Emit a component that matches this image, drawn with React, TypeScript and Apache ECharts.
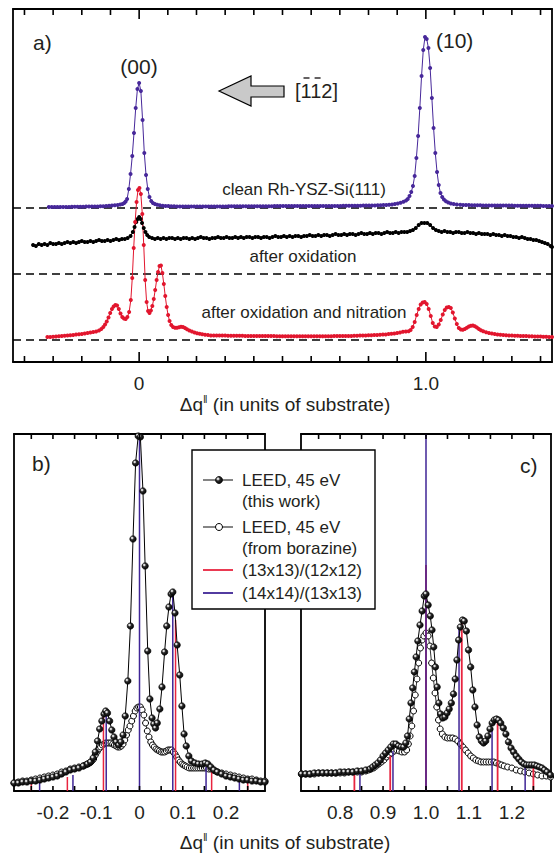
import React, { useEffect, useRef } from 'react';
import * as echarts from 'echarts';

const FONT = '"Liberation Sans", Arial, Helvetica, sans-serif';
const TXT = '#231f20';
const PURPLE = '#47289a';
const RED = '#e2162e';
const STICK_RED = '#e8243f';
const STICK_PURPLE = '#3f2596';

// ---------- panel a : x range and tick values ----------
const xRangeA = [-0.44, 1.44];
const yMaxA = 353;
const majorTicksA = [0, 1];
const minorTicksA = [-0.4, -0.3, -0.2, -0.1, 0.1, 0.2, 0.3, 0.4, 0.5, 0.6, 0.7, 0.8, 0.9, 1.1, 1.2, 1.3, 1.4];
// dashed baselines of the three traces (clean, oxidation, nitration)
const baselineOffsets = [154, 88, 22];

// intensity above its dashed baseline: [q, I]
const cleanTrace = [
  [-0.315, 1], [-0.305, 1], [-0.295, 1], [-0.285, 1], [-0.275, 1], [-0.265, 1], [-0.255, 1], [-0.245, 1], [-0.235, 1.2], [-0.225, 1.2],
  [-0.215, 1.2], [-0.205, 1.3], [-0.195, 1.3], [-0.185, 1.4], [-0.175, 1.4], [-0.165, 1.5], [-0.155, 1.5], [-0.145, 1.6], [-0.135, 1.7], [-0.125, 1.8],
  [-0.115, 2], [-0.105, 2.2], [-0.095, 2.4], [-0.085, 2.7], [-0.075, 3], [-0.066, 3.5], [-0.058, 4], [-0.052, 5], [-0.047, 6.5], [-0.042, 9],
  [-0.036, 19], [-0.03, 34], [-0.024, 52], [-0.018, 75], [-0.012, 100], [-0.006, 119], [0, 125], [0.006, 117], [0.012, 88], [0.018, 55],
  [0.024, 33], [0.03, 19], [0.036, 11], [0.042, 7], [0.048, 5], [0.055, 4], [0.063, 3.2], [0.072, 2.7], [0.082, 2.3], [0.092, 2],
  [0.102, 1.9], [0.112, 1.8], [0.122, 1.7], [0.132, 1.6], [0.142, 1.5], [0.152, 1.5], [0.162, 1.5], [0.172, 1.5], [0.182, 1.5], [0.192, 1.5],
  [0.202, 1.5], [0.212, 1.5], [0.222, 1.5], [0.232, 1.6], [0.242, 1.6], [0.252, 1.6], [0.262, 1.6], [0.272, 1.6], [0.282, 1.6], [0.292, 1.6],
  [0.302, 1.6], [0.312, 1.7], [0.322, 1.7], [0.332, 1.7], [0.342, 1.7], [0.352, 1.7], [0.362, 1.7], [0.372, 1.7], [0.382, 1.7], [0.392, 1.8],
  [0.402, 1.8], [0.412, 1.8], [0.422, 1.8], [0.432, 1.8], [0.442, 1.8], [0.452, 1.8], [0.462, 1.8], [0.472, 1.9], [0.482, 1.9], [0.492, 1.9],
  [0.502, 1.9], [0.512, 1.9], [0.522, 1.9], [0.532, 1.9], [0.542, 1.9], [0.552, 2], [0.562, 2], [0.572, 2], [0.582, 2], [0.592, 2],
  [0.602, 2], [0.612, 2], [0.622, 2], [0.632, 2], [0.642, 2], [0.652, 2.1], [0.662, 2.1], [0.672, 2.1], [0.682, 2.1], [0.692, 2.1],
  [0.702, 2.1], [0.712, 2.2], [0.722, 2.2], [0.732, 2.2], [0.742, 2.2], [0.752, 2.3], [0.762, 2.3], [0.772, 2.3], [0.782, 2.4], [0.792, 2.4],
  [0.802, 2.5], [0.812, 2.5], [0.822, 2.6], [0.832, 2.7], [0.842, 2.8], [0.852, 2.9], [0.862, 3.1], [0.872, 3.3], [0.882, 3.6], [0.892, 4],
  [0.902, 4.5], [0.912, 5.2], [0.922, 6.2], [0.931, 7.5], [0.937, 9], [0.943, 12], [0.949, 16], [0.955, 22], [0.961, 32], [0.967, 50],
  [0.973, 72], [0.979, 100], [0.985, 132], [0.991, 158], [0.997, 171], [1.003, 169], [1.009, 160], [1.015, 140], [1.021, 110], [1.027, 80],
  [1.033, 55], [1.039, 36], [1.045, 23], [1.051, 15], [1.057, 11], [1.063, 8.5], [1.07, 6.8], [1.078, 5.5], [1.087, 4.6], [1.097, 4],
  [1.108, 3.6], [1.12, 3.3], [1.13, 3.1], [1.14, 3], [1.15, 2.9], [1.16, 2.8], [1.17, 2.8], [1.18, 2.7], [1.19, 2.7], [1.2, 2.6],
  [1.21, 2.6], [1.22, 2.6], [1.23, 2.5], [1.24, 2.5], [1.25, 2.5], [1.26, 2.5], [1.27, 2.4], [1.28, 2.4], [1.29, 2.4], [1.3, 2.4],
  [1.31, 2.3], [1.32, 2.3], [1.33, 2.3], [1.34, 2.3], [1.35, 2.3], [1.36, 2.2], [1.37, 2.2], [1.38, 2.2], [1.39, 2.2], [1.4, 2.2],
  [1.41, 2.1], [1.42, 2.1], [1.43, 2.1], [1.44, 2.1],
];

const oxidationTrace = [
  [-0.37, 29], [-0.36, 28], [-0.35, 30], [-0.34, 29], [-0.33, 30], [-0.32, 29], [-0.31, 31], [-0.3, 30], [-0.29, 30], [-0.28, 31],
  [-0.27, 30], [-0.26, 31], [-0.25, 32], [-0.24, 31], [-0.23, 32], [-0.22, 31], [-0.21, 32], [-0.2, 33], [-0.19, 32], [-0.18, 32],
  [-0.17, 33], [-0.16, 32], [-0.15, 33], [-0.14, 34], [-0.13, 33], [-0.12, 33], [-0.11, 34], [-0.1, 33], [-0.09, 34], [-0.08, 35],
  [-0.07, 34], [-0.06, 35], [-0.05, 35], [-0.04, 36], [-0.03, 38], [-0.022, 42], [-0.016, 47], [-0.01, 52], [-0.005, 55], [0, 57],
  [0.005, 55], [0.01, 51], [0.016, 46], [0.022, 42], [0.028, 39], [0.035, 37], [0.045, 36], [0.055, 35], [0.065, 36], [0.075, 35],
  [0.085, 36], [0.095, 35], [0.105, 36], [0.115, 36], [0.125, 35], [0.135, 36], [0.145, 35], [0.155, 36], [0.165, 36], [0.175, 35],
  [0.185, 36], [0.195, 35], [0.205, 36], [0.215, 37], [0.225, 36], [0.235, 36], [0.245, 35], [0.255, 36], [0.265, 36], [0.275, 37],
  [0.285, 36], [0.295, 36], [0.305, 37], [0.315, 36], [0.325, 36], [0.335, 37], [0.345, 36], [0.355, 37], [0.365, 36], [0.375, 37],
  [0.385, 37], [0.395, 36], [0.405, 37], [0.415, 37], [0.425, 36], [0.435, 37], [0.445, 37], [0.455, 36], [0.465, 37], [0.475, 38],
  [0.485, 37], [0.495, 37], [0.505, 38], [0.515, 37], [0.525, 38], [0.535, 37], [0.545, 38], [0.555, 38], [0.565, 37], [0.575, 38],
  [0.585, 38], [0.595, 39], [0.605, 38], [0.615, 38], [0.625, 39], [0.635, 38], [0.645, 39], [0.655, 39], [0.665, 38], [0.675, 39],
  [0.685, 40], [0.695, 39], [0.705, 39], [0.715, 40], [0.725, 39], [0.735, 40], [0.745, 40], [0.755, 39], [0.765, 40], [0.775, 41],
  [0.785, 40], [0.795, 40], [0.805, 41], [0.815, 40], [0.825, 41], [0.835, 41], [0.845, 40], [0.855, 41], [0.865, 42], [0.875, 41],
  [0.885, 41], [0.895, 42], [0.905, 41], [0.915, 42], [0.925, 42], [0.935, 42], [0.945, 43], [0.955, 44], [0.965, 46], [0.975, 49],
  [0.985, 51], [0.995, 51], [1.005, 51], [1.015, 49], [1.025, 46], [1.035, 44], [1.045, 43], [1.055, 42], [1.065, 43], [1.075, 42],
  [1.085, 42], [1.095, 41], [1.105, 42], [1.115, 42], [1.125, 41], [1.135, 41], [1.145, 42], [1.155, 41], [1.165, 41], [1.175, 40],
  [1.185, 41], [1.195, 40], [1.205, 40], [1.215, 40], [1.225, 39], [1.235, 40], [1.245, 39], [1.255, 39], [1.265, 38], [1.275, 39],
  [1.285, 38], [1.295, 38], [1.305, 37], [1.315, 37], [1.325, 36], [1.335, 37], [1.345, 36], [1.355, 35], [1.365, 35], [1.375, 34],
  [1.385, 34], [1.395, 33], [1.405, 32], [1.415, 31], [1.425, 30], [1.435, 28], [1.44, 27],
];

const nitrationTrace = [
  [-0.32, 3], [-0.31, 3], [-0.3, 3.3], [-0.29, 3.5], [-0.28, 3.8], [-0.27, 4], [-0.26, 4.3], [-0.25, 4.5], [-0.24, 4.8], [-0.23, 5],
  [-0.22, 5.4], [-0.21, 5.8], [-0.2, 6.1], [-0.19, 6.5], [-0.18, 7], [-0.17, 7.5], [-0.16, 8], [-0.15, 8.6], [-0.14, 9.5], [-0.132, 11],
  [-0.125, 13], [-0.119, 15.5], [-0.113, 18.5], [-0.107, 22.5], [-0.101, 27], [-0.095, 31], [-0.089, 33.5], [-0.083, 35], [-0.077, 34.5], [-0.071, 31],
  [-0.065, 26.5], [-0.059, 23], [-0.053, 21.5], [-0.047, 21], [-0.041, 23], [-0.035, 28], [-0.029, 40], [-0.024, 62], [-0.019, 92], [-0.014, 118],
  [-0.009, 138], [-0.004, 150], [0.001, 152], [0.006, 146], [0.011, 126], [0.016, 95], [0.021, 60], [0.026, 38], [0.031, 29], [0.036, 27],
  [0.041, 29.5], [0.046, 34], [0.051, 41], [0.056, 50], [0.061, 60], [0.066, 68], [0.071, 74], [0.076, 74.5], [0.081, 67], [0.086, 56],
  [0.091, 44], [0.096, 33], [0.101, 25], [0.106, 19], [0.112, 15], [0.118, 13], [0.125, 12.3], [0.132, 12.3], [0.139, 12.8], [0.146, 13.2],
  [0.153, 13], [0.16, 12], [0.167, 10.8], [0.175, 9.5], [0.184, 8.4], [0.193, 7.5], [0.202, 6.8], [0.211, 6.2], [0.22, 5.7], [0.23, 5.3],
  [0.24, 4.9], [0.25, 4.5], [0.26, 4.5], [0.27, 4.5], [0.28, 4.4], [0.29, 4.4], [0.3, 4.4], [0.31, 4.3], [0.32, 4.3], [0.33, 4.3],
  [0.34, 4.2], [0.35, 4.2], [0.36, 4.2], [0.37, 4.1], [0.38, 4.1], [0.39, 4.1], [0.4, 4], [0.41, 4], [0.42, 4], [0.43, 4],
  [0.44, 3.9], [0.45, 3.9], [0.46, 3.9], [0.47, 3.9], [0.48, 3.8], [0.49, 3.8], [0.5, 3.8], [0.51, 3.8], [0.52, 3.8], [0.53, 3.7],
  [0.54, 3.7], [0.55, 3.7], [0.56, 3.7], [0.57, 3.7], [0.58, 3.7], [0.59, 3.7], [0.6, 3.7], [0.61, 3.7], [0.62, 3.7], [0.63, 3.7],
  [0.64, 3.8], [0.65, 3.8], [0.66, 3.8], [0.67, 3.8], [0.68, 3.9], [0.69, 3.9], [0.7, 3.9], [0.71, 4], [0.72, 4], [0.73, 4.1],
  [0.74, 4.1], [0.75, 4.2], [0.76, 4.3], [0.77, 4.4], [0.78, 4.5], [0.79, 4.6], [0.8, 4.7], [0.81, 4.8], [0.82, 4.9], [0.83, 5],
  [0.84, 5.2], [0.85, 5.4], [0.86, 5.6], [0.87, 5.9], [0.88, 6.2], [0.89, 6.6], [0.9, 7], [0.91, 7.6], [0.92, 8.2], [0.93, 8.6],
  [0.94, 8.8], [0.947, 10], [0.954, 13], [0.961, 18], [0.968, 25], [0.975, 31], [0.982, 35.5], [0.989, 37.5], [0.996, 38], [1.003, 36],
  [1.01, 31], [1.017, 24], [1.024, 17], [1.031, 13.5], [1.038, 13], [1.045, 15.5], [1.052, 20], [1.059, 25.5], [1.066, 30], [1.073, 32.5],
  [1.08, 33], [1.087, 32], [1.094, 27.5], [1.101, 21.5], [1.108, 16], [1.115, 12], [1.122, 10.5], [1.129, 10.2], [1.136, 11], [1.143, 12.3],
  [1.15, 13.5], [1.157, 14.3], [1.164, 14.5], [1.171, 13.8], [1.178, 12.5], [1.185, 11], [1.192, 9.8], [1.2, 8.8], [1.21, 7.8], [1.22, 7],
  [1.23, 6.4], [1.24, 6], [1.25, 5.6], [1.26, 5.3], [1.27, 5], [1.28, 4.8], [1.29, 4.6], [1.3, 4.5], [1.31, 4.3], [1.32, 4.2],
  [1.33, 4.1], [1.34, 4], [1.35, 3.9], [1.36, 3.8], [1.37, 3.7], [1.38, 3.6], [1.39, 3.5], [1.4, 3.4], [1.41, 3.3], [1.42, 3.2],
  [1.43, 3.1], [1.44, 3],
];

// ---------- panels b and c ----------
const yMaxBC = 357;
const xRangeB = [-0.29, 0.29];
const ticksB = [-0.25, -0.2, -0.15, -0.1, -0.05, 0, 0.05, 0.1, 0.15, 0.2, 0.25];
const labelsB = [-0.2, -0.1, 0, 0.1, 0.2];
const xRangeC = [0.709, 1.291];
const ticksC = [0.75, 0.8, 0.85, 0.9, 0.95, 1, 1.05, 1.1, 1.15, 1.2, 1.25];
const labelsC = [0.8, 0.9, 1, 1.1, 1.2];

const thisWorkB = [
  [-0.29, 8], [-0.28, 8], [-0.27, 9], [-0.26, 9], [-0.25, 10], [-0.24, 10], [-0.23, 11], [-0.22, 12], [-0.21, 13], [-0.2, 14],
  [-0.19, 15], [-0.18, 17], [-0.17, 19], [-0.16, 21], [-0.15, 22], [-0.14, 23], [-0.13, 25], [-0.12, 27], [-0.113, 29], [-0.107, 33],
  [-0.102, 39], [-0.097, 50], [-0.092, 62], [-0.087, 70], [-0.082, 77], [-0.078, 80], [-0.074, 78], [-0.069, 70], [-0.064, 61], [-0.059, 54],
  [-0.054, 49], [-0.048, 46], [-0.043, 49], [-0.038, 56], [-0.033, 75], [-0.027, 110], [-0.021, 165], [-0.015, 252], [-0.009, 328], [-0.003, 355],
  [0.002, 354], [0.008, 300], [0.013, 225], [0.019, 140], [0.024, 92], [0.029, 73], [0.033, 67], [0.037, 63], [0.041, 68], [0.047, 82],
  [0.052, 104], [0.058, 139], [0.063, 165], [0.068, 184], [0.073, 197], [0.077, 199], [0.082, 178], [0.087, 146], [0.093, 116], [0.098, 85],
  [0.103, 57], [0.108, 45], [0.114, 35], [0.12, 30], [0.128, 28], [0.136, 27], [0.145, 27], [0.152, 28], [0.158, 27], [0.165, 24],
  [0.172, 21], [0.18, 19], [0.19, 17], [0.2, 15], [0.21, 14], [0.22, 13], [0.23, 12], [0.24, 11], [0.25, 11], [0.26, 10],
  [0.27, 10], [0.28, 9], [0.29, 9],
];

const borazineB = [
  [-0.29, 8], [-0.28, 9], [-0.27, 10], [-0.26, 10], [-0.25, 11], [-0.24, 12], [-0.23, 13], [-0.22, 14], [-0.21, 15], [-0.2, 16],
  [-0.19, 17], [-0.18, 19], [-0.17, 20], [-0.16, 22], [-0.15, 23], [-0.14, 24], [-0.13, 25], [-0.125, 26], [-0.12, 27], [-0.115, 28],
  [-0.11, 30], [-0.106, 32], [-0.102, 36], [-0.098, 39], [-0.094, 42], [-0.09, 44], [-0.086, 46], [-0.082, 47], [-0.078, 48], [-0.074, 48],
  [-0.07, 48], [-0.066, 48], [-0.062, 47], [-0.058, 46], [-0.054, 45], [-0.05, 44], [-0.046, 44], [-0.042, 45], [-0.038, 47], [-0.034, 51],
  [-0.03, 56], [-0.026, 61], [-0.022, 65], [-0.018, 70], [-0.014, 75], [-0.01, 80], [-0.006, 83], [-0.002, 84], [0.002, 84], [0.006, 81],
  [0.01, 76], [0.014, 68], [0.018, 60], [0.022, 54], [0.026, 49], [0.03, 46], [0.034, 44], [0.038, 42], [0.042, 41], [0.046, 40],
  [0.05, 39], [0.054, 39], [0.058, 39], [0.062, 40], [0.066, 41], [0.07, 41], [0.074, 41], [0.078, 39], [0.082, 37], [0.086, 34],
  [0.09, 31], [0.094, 29], [0.098, 27], [0.102, 26], [0.106, 25], [0.11, 24], [0.115, 23], [0.12, 23], [0.125, 23], [0.13, 23],
  [0.135, 23], [0.14, 23], [0.145, 23], [0.15, 23], [0.155, 23], [0.16, 22], [0.165, 22], [0.17, 21], [0.175, 20], [0.18, 19],
  [0.19, 18], [0.2, 17], [0.21, 16], [0.22, 15], [0.23, 14], [0.24, 13], [0.25, 12], [0.26, 12], [0.27, 11], [0.28, 10],
  [0.29, 10],
];

const thisWorkC = [
  [0.71, 17], [0.72, 17], [0.73, 17], [0.74, 18], [0.75, 18], [0.76, 18], [0.77, 18], [0.78, 18], [0.79, 18], [0.8, 19],
  [0.81, 19], [0.82, 19], [0.83, 19], [0.84, 20], [0.85, 20], [0.86, 21], [0.87, 22], [0.876, 24], [0.882, 26], [0.888, 28],
  [0.894, 31], [0.9, 35], [0.906, 38], [0.912, 41], [0.918, 44], [0.924, 47], [0.93, 47], [0.936, 45], [0.942, 44], [0.948, 44],
  [0.953, 48], [0.957, 55], [0.961, 72], [0.965, 88], [0.969, 103], [0.973, 119], [0.977, 134], [0.981, 150], [0.986, 166], [0.991, 180],
  [0.996, 195], [1.0, 197], [1.005, 186], [1.01, 175], [1.014, 161], [1.018, 144], [1.022, 124], [1.026, 104], [1.03, 88], [1.034, 77],
  [1.039, 73], [1.044, 74], [1.049, 78], [1.054, 82], [1.059, 88], [1.064, 97], [1.068, 112], [1.072, 131], [1.076, 151], [1.08, 164],
  [1.085, 171], [1.089, 170], [1.094, 160], [1.099, 141], [1.104, 124], [1.109, 101], [1.114, 84], [1.119, 66], [1.124, 54], [1.129, 50],
  [1.134, 48], [1.139, 50], [1.144, 55], [1.149, 62], [1.154, 68], [1.159, 71], [1.164, 72], [1.169, 71], [1.174, 68], [1.18, 63],
  [1.186, 57], [1.192, 49], [1.198, 43], [1.204, 39], [1.21, 35], [1.216, 32], [1.222, 29], [1.228, 27], [1.234, 26], [1.24, 26],
  [1.246, 26], [1.252, 26], [1.258, 25], [1.264, 24], [1.27, 23], [1.276, 21], [1.282, 19], [1.29, 16],
];

const borazineC = [
  [0.71, 17], [0.72, 17], [0.73, 17], [0.74, 17], [0.75, 18], [0.76, 18], [0.77, 18], [0.78, 18], [0.79, 18], [0.8, 18],
  [0.81, 18], [0.82, 19], [0.83, 19], [0.84, 19], [0.85, 19], [0.86, 20], [0.866, 21], [0.872, 22], [0.878, 23], [0.884, 25],
  [0.89, 27], [0.896, 29], [0.902, 31], [0.908, 34], [0.914, 36], [0.92, 38], [0.926, 40], [0.932, 41], [0.938, 40], [0.944, 39],
  [0.95, 39], [0.955, 41], [0.959, 47], [0.963, 55], [0.967, 65], [0.971, 80], [0.975, 96], [0.979, 112], [0.983, 128], [0.987, 143],
  [0.991, 151], [0.995, 155], [1.0, 158], [1.005, 155], [1.009, 145], [1.013, 128], [1.017, 113], [1.021, 98], [1.025, 84], [1.029, 71],
  [1.033, 62], [1.038, 57], [1.044, 54], [1.05, 53], [1.056, 53], [1.062, 53], [1.068, 52], [1.074, 50], [1.08, 47], [1.086, 44],
  [1.092, 41], [1.098, 38], [1.104, 35], [1.11, 33], [1.116, 31], [1.122, 30], [1.128, 29], [1.134, 29], [1.14, 29], [1.146, 29],
  [1.152, 29], [1.158, 29], [1.164, 28], [1.17, 27], [1.176, 26], [1.182, 25], [1.19, 24], [1.2, 23], [1.21, 21], [1.22, 20],
  [1.23, 19], [1.24, 18], [1.25, 17], [1.26, 16], [1.27, 15], [1.28, 15], [1.29, 14],
];

// moiré satellite positions (13x13)/(12x12) red, (14x14)/(13x13) purple, with stick heights
const redPosB = [-0.25, -0.1667, -0.0833, 0.0833, 0.1667, 0.25];
const redHB = [7, 14, 77, 171, 22, 10];
const purplePosB = [-0.2308, -0.1538, -0.0769, 0, 0.0769, 0.1538, 0.2308];
const purpleHB = [9, 16, 77, 357, 199, 24, 12];
const redPosC = [0.8333, 0.9167, 1.0, 1.0833, 1.1667, 1.25];
const redHC = [16, 35, 226, 168, 70, 23];
const purplePosC = [0.8462, 0.9231, 1.0, 1.0769, 1.1538, 1.2308];
const purpleHC = [17, 40, 357, 165, 63, 25];

const fmt = (v: number) => (v === 0 ? '0' : v.toFixed(1));

const sphere = {
  type: 'radial', x: 0.36, y: 0.34, r: 0.7,
  colorStops: [
    { offset: 0, color: '#ffffff' },
    { offset: 0.14, color: '#d8d8d8' },
    { offset: 0.4, color: '#2a2a2a' },
    { offset: 1, color: '#000000' },
  ],
};

function xAx(gridIndex: number, position: string, range: number[], labels: number[] | null) {
  return {
    type: 'value', gridIndex, position, min: range[0], max: range[1],
    axisLine: { show: true, onZero: false, lineStyle: { color: '#000', width: 1.8 } },
    axisTick: { show: false },
    axisLabel: labels
      ? { show: true, customValues: labels, formatter: fmt, margin: 12, fontSize: 19, fontFamily: FONT, color: TXT }
      : { show: false },
    splitLine: { show: false },
  };
}

function yAx(gridIndex: number, position: string, max: number) {
  return {
    type: 'value', gridIndex, position, min: 0, max,
    axisLine: { show: true, onZero: false, lineStyle: { color: '#000', width: 1.8 } },
    axisTick: { show: false }, axisLabel: { show: false }, splitLine: { show: false },
  };
}

// inward tick marks as broken line segments (1 data unit = 1 px on these y scales)
function tickLineSeries(xIdx: number, yIdx: number, ticks: number[], yMax: number, len: number) {
  const data: any[] = [];
  ticks.forEach((v) => {
    data.push([v, 0], [v, len], [v, '-']);
    data.push([v, yMax], [v, yMax - len], [v, '-']);
  });
  return {
    type: 'line', xAxisIndex: xIdx, yAxisIndex: yIdx, z: 9, data,
    showSymbol: false, symbol: 'none', connectNulls: false, clip: false,
    lineStyle: { color: '#000', width: 1.6 },
  };
}

function traceSeries(data: number[][], off: number, color: string, size: number) {
  return {
    type: 'line', xAxisIndex: 0, yAxisIndex: 0, z: 3,
    data: data.map((p) => [p[0], p[1] + off]),
    symbol: 'circle', symbolSize: size, showSymbol: true,
    itemStyle: { color }, lineStyle: { color, width: 1 },
  };
}

function dashedSeries(off: number) {
  return {
    type: 'line', xAxisIndex: 0, yAxisIndex: 0, z: 2,
    data: [[xRangeA[0], off], [xRangeA[1], off]], showSymbol: false, symbol: 'none',
    lineStyle: { color: '#000', width: 1.5, type: [8, 5] },
  };
}

function stickSeries(xIdx: number, yIdx: number, pos: number[], h: number[], color: string, width: number, z: number) {
  return {
    type: 'custom', xAxisIndex: xIdx, yAxisIndex: yIdx, z,
    data: pos.map((p, i) => [p, h[i]]),
    renderItem: (params: any, api: any) => {
      const x = api.value(0);
      const a = api.coord([x, 0]);
      const b = api.coord([x, api.value(1)]);
      return { type: 'line', shape: { x1: a[0], y1: a[1], x2: b[0], y2: b[1] }, style: { stroke: color, lineWidth: width } };
    },
  };
}

function filledSeries(xIdx: number, yIdx: number, data: number[][]) {
  return {
    type: 'line', xAxisIndex: xIdx, yAxisIndex: yIdx, z: 6, data,
    symbol: 'circle', symbolSize: 6.5, showSymbol: true,
    itemStyle: { color: sphere, borderColor: '#000', borderWidth: 0.6 },
    lineStyle: { color: '#000', width: 1 },
  };
}

function openSeries(xIdx: number, yIdx: number, data: number[][]) {
  return {
    type: 'line', xAxisIndex: xIdx, yAxisIndex: yIdx, z: 3, data,
    symbol: 'circle', symbolSize: 6, showSymbol: true,
    itemStyle: { color: '#fff', borderColor: '#000', borderWidth: 1 },
    lineStyle: { color: '#000', width: 0.8 },
  };
}

function txt(text: string, x: number, y: number, size: number, align = 'left', extra: any = {}) {
  return {
    type: 'text', x, y, z: 50,
    style: {
      text, fontSize: size, fontFamily: FONT, fill: TXT,
      align, textAlign: align, verticalAlign: 'middle', textVerticalAlign: 'middle', ...extra,
    },
  };
}

function axisTitle(x: number, y: number) {
  return {
    type: 'text', x, y, z: 50,
    style: {
      text: '{m|Δq}{s|ǁ}{m| (in units of substrate)}',
      fill: TXT, align: 'center', textAlign: 'center', verticalAlign: 'middle', textVerticalAlign: 'middle',
      rich: {
        m: { fontSize: 19, fontFamily: FONT, fill: TXT, lineHeight: 22 },
        s: { fontSize: 11, fontFamily: FONT, fill: TXT, verticalAlign: 'top', lineHeight: 22 },
      },
    },
  };
}

function legendGroup() {
  const L = 192, T = 450, W = 183, H = 159;
  const lx1 = 203, lx2 = 233, cx = 219, tx = 242;
  return {
    type: 'group', z: 100,
    children: [
      { type: 'rect', shape: { x: L, y: T, width: W, height: H }, style: { fill: '#fff', stroke: '#000', lineWidth: 1.4 }, z: 100 },
      { type: 'line', shape: { x1: lx1, y1: 480, x2: lx2, y2: 480 }, style: { stroke: '#333', lineWidth: 1.2 }, z: 101 },
      { type: 'circle', shape: { cx, cy: 480, r: 3.6 }, style: { fill: sphere, stroke: '#000', lineWidth: 0.6 }, z: 102 },
      { ...txt('LEED, 45 eV', tx, 480, 17), z: 101 },
      { ...txt('(this work)', tx, 501, 17), z: 101 },
      { type: 'line', shape: { x1: lx1, y1: 527, x2: lx2, y2: 527 }, style: { stroke: '#333', lineWidth: 1.2 }, z: 101 },
      { type: 'circle', shape: { cx, cy: 527, r: 3.5 }, style: { fill: '#fff', stroke: '#000', lineWidth: 1 }, z: 102 },
      { ...txt('LEED, 45 eV', tx, 527, 17), z: 101 },
      { ...txt('(from borazine)', tx, 548, 17), z: 101 },
      { type: 'line', shape: { x1: lx1, y1: 570, x2: lx2, y2: 570 }, style: { stroke: STICK_RED, lineWidth: 1.8 }, z: 101 },
      { ...txt('(13x13)/(12x12)', tx, 570, 17), z: 101 },
      { type: 'line', shape: { x1: lx1, y1: 593, x2: lx2, y2: 593 }, style: { stroke: STICK_PURPLE, lineWidth: 1.8 }, z: 101 },
      { ...txt('(14x14)/(13x13)', tx, 593, 17), z: 101 },
    ],
  };
}

function buildOption() {
  const bracketLeft = 295;
  return {
    animation: false,
    grid: [
      { left: 13, top: 9, width: 539, height: 353 },
      { left: 14, top: 434, width: 251, height: 357 },
      { left: 301, top: 434, width: 250, height: 357 },
    ],
    xAxis: [
      xAx(0, 'bottom', xRangeA, majorTicksA),
      xAx(0, 'top', xRangeA, null),
      xAx(1, 'bottom', xRangeB, labelsB),
      xAx(1, 'top', xRangeB, null),
      xAx(2, 'bottom', xRangeC, labelsC),
      xAx(2, 'top', xRangeC, null),
    ],
    yAxis: [
      yAx(0, 'left', yMaxA), yAx(0, 'right', yMaxA),
      yAx(1, 'left', yMaxBC), yAx(1, 'right', yMaxBC),
      yAx(2, 'left', yMaxBC), yAx(2, 'right', yMaxBC),
    ],
    series: [
      dashedSeries(baselineOffsets[0]),
      dashedSeries(baselineOffsets[1]),
      dashedSeries(baselineOffsets[2]),
      traceSeries(cleanTrace, baselineOffsets[0], PURPLE, 4),
      traceSeries(oxidationTrace, baselineOffsets[1], '#000', 4),
      traceSeries(nitrationTrace, baselineOffsets[2], RED, 4),
      tickLineSeries(0, 0, minorTicksA, yMaxA, 6),
      tickLineSeries(0, 0, majorTicksA, yMaxA, 10),
      openSeries(2, 2, borazineB),
      stickSeries(2, 2, redPosB, redHB, STICK_RED, 1.5, 4),
      stickSeries(2, 2, purplePosB, purpleHB, STICK_PURPLE, 1.5, 5),
      filledSeries(2, 2, thisWorkB),
      tickLineSeries(2, 2, ticksB, yMaxBC, 5),
      openSeries(4, 4, borazineC),
      stickSeries(4, 4, redPosC, redHC, STICK_RED, 1.8, 4),
      stickSeries(4, 4, purplePosC, purpleHC, STICK_PURPLE, 1.5, 5),
      filledSeries(4, 4, thisWorkC),
      tickLineSeries(4, 4, ticksC, yMaxBC, 5),
    ],
    graphic: [
      txt('a)', 33, 42, 21),
      txt('(00)', 139, 66, 21, 'center'),
      txt('(10)', 436, 40, 21),
      {
        type: 'polygon', z: 50,
        shape: { points: [[219, 91], [251, 76], [251, 86], [284, 86], [284, 97], [251, 97], [251, 106]] },
        style: { fill: '#c9c9c9', stroke: '#000', lineWidth: 1.2 },
      },
      txt('[112]', bracketLeft, 91, 20),
      { type: 'line', z: 50, shape: { x1: bracketLeft + 8.5, y1: 78, x2: bracketLeft + 14.5, y2: 78 }, style: { stroke: TXT, lineWidth: 1.4 } },
      { type: 'line', z: 50, shape: { x1: bracketLeft + 19.6, y1: 78, x2: bracketLeft + 25.6, y2: 78 }, style: { stroke: TXT, lineWidth: 1.4 } },
      txt('clean Rh-YSZ-Si(111)', 304, 189, 17, 'center'),
      txt('after oxidation', 303, 256, 17, 'center'),
      txt('after oxidation and nitration', 304, 312, 17, 'center'),
      axisTitle(285, 404),
      txt('b)', 32, 463, 21),
      txt('c)', 520, 465, 21),
      axisTitle(285, 842),
      legendGroup(),
    ],
  };
}

export default function App() {
  const ref = useRef<HTMLDivElement>(null);
  useEffect(() => {
    const chart = echarts.init(ref.current as HTMLDivElement, null, { renderer: 'svg' });
    chart.setOption(buildOption() as any);
    return () => chart.dispose();
  }, []);
  return (
    <div
      ref={ref}
      style={{ position: 'fixed', left: 0, top: 0, width: 554, height: 855, background: '#fff' }}
    />
  );
}
